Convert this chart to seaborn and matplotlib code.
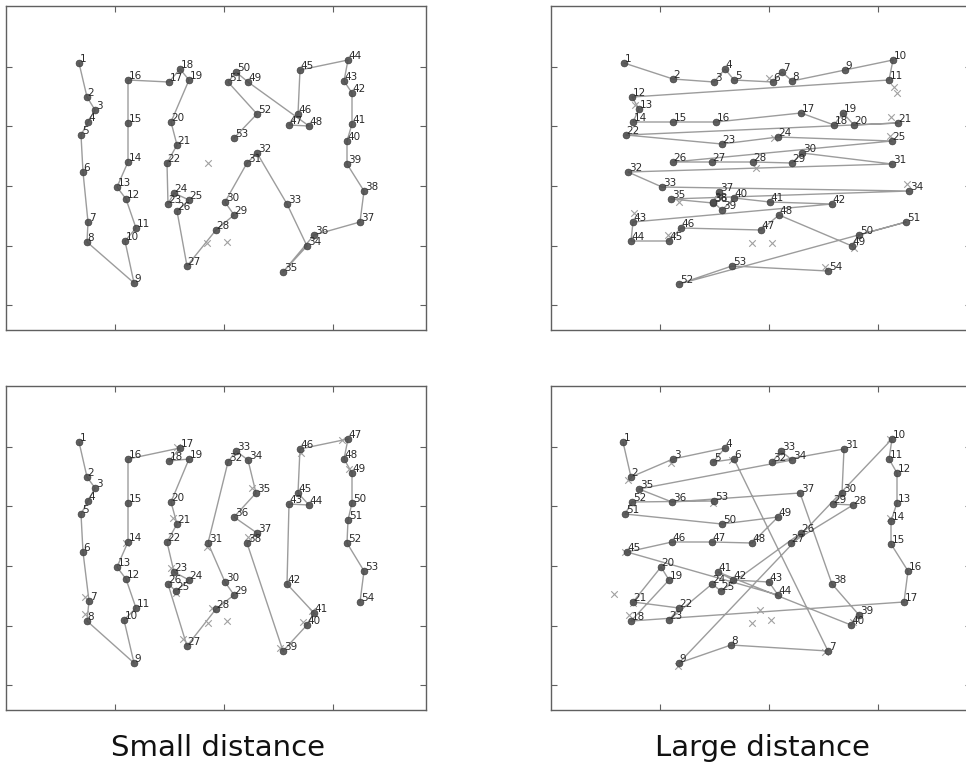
import numpy as np
import pandas as pd
import matplotlib
matplotlib.use("Agg")
import matplotlib.pyplot as plt
import seaborn as sns

sns.set_style("white")
plt.rcParams['font.family'] = ['DejaVu Sans']

# ---------------- data (screen coordinates inside each panel, y grows downward) -------------
# Top-left panel: small distance, trial A (53 points)
p1_x = [73, 81, 89, 82, 75, 77, 82, 81, 128, 119, 130, 120, 111, 122, 122, 122,
        163, 174, 183, 165, 171, 161, 162, 168, 183, 171, 181, 210, 228, 219, 241, 251,
        281, 301, 277, 308, 354, 358, 341, 341, 346, 346, 338, 342, 294, 292, 283, 303,
        242, 230, 222, 251, 228]
p1_y = [57, 91, 104, 116, 129, 166, 216, 236, 277, 235, 222, 193, 181, 156, 117, 74,
        76, 63, 74, 116, 139, 157, 198, 187, 194, 205, 260, 224, 209, 196, 157, 147,
        198, 240, 266, 229, 216, 185, 158, 135, 118, 87, 75, 54, 64, 108, 119, 120,
        76, 66, 76, 108, 132]
p1_tx = [202, 201, 221]
p1_ty = [157, 237, 236]

# Top-right panel: large distance, trial A (54 points)
p2_x = [73, 122, 163, 174, 183, 222, 231, 241, 294, 342, 338, 81, 88, 82, 122, 165,
        250, 283, 292, 303, 347, 75, 171, 227, 341, 122, 161, 202, 241, 251, 341, 77,
        111, 358, 120, 162, 168, 162, 171, 183, 219, 281, 82, 80, 118, 130, 210, 228,
        301, 308, 355, 128, 181, 277]
p2_y = [57, 73, 76, 63, 74, 76, 66, 75, 64, 54, 74, 91, 103, 116, 116, 116,
        107, 119, 107, 119, 117, 129, 138, 131, 135, 156, 156, 156, 157, 147, 158, 166,
        181, 185, 193, 197, 186, 196, 204, 192, 196, 198, 216, 235, 235, 222, 224, 209,
        240, 229, 216, 278, 260, 265]
p2_tx = [201, 221, 343, 346, 340, 84, 128, 83, 117, 218, 339, 356, 274, 303, 205, 223]
p2_ty = [237, 237, 81, 87, 111, 99, 196, 207, 229, 72, 130, 178, 261, 242, 162, 132]

# Bottom-left panel: small distance, trial B (54 points)
p3_x = [73, 81, 89, 82, 75, 77, 83, 81, 128, 118, 130, 120, 111, 122, 122, 122,
        174, 163, 183, 165, 171, 161, 168, 183, 170, 162, 181, 210, 228, 219, 202, 222,
        230, 242, 250, 228, 251, 241, 277, 301, 308, 281, 283, 303, 292, 294, 342, 338,
        346, 346, 342, 341, 358, 354]
p3_y = [56, 91, 102, 115, 128, 166, 215, 235, 277, 234, 222, 193, 181, 156, 117, 73,
        62, 75, 73, 116, 138, 156, 186, 194, 205, 198, 260, 223, 209, 196, 157, 76,
        65, 74, 107, 131, 147, 157, 265, 239, 227, 198, 118, 119, 107, 63, 53, 73,
        87, 117, 134, 157, 185, 216]
p3_tx = [202, 221, 201, 206, 177, 274, 297, 306, 171, 246, 242, 120, 79, 79, 336, 295, 343, 167, 165, 170]
p3_ty = [237, 235, 161, 222, 253, 262, 236, 225, 61, 102, 151, 157, 211, 228, 54, 67, 83, 132, 182, 207]

# Bottom-right panel: large distance, trial B (53 points)
p4_x = [72, 80, 122, 174, 162, 183, 277, 180, 128, 341, 338, 346, 346, 340, 340, 357,
        353, 80, 118, 110, 82, 128, 118, 161, 170, 250, 240, 302, 282, 291, 293, 221,
        230, 241, 88, 121, 249, 281, 308, 300, 167, 182, 218, 227, 76, 121, 161, 201,
        227, 171, 74, 81, 163]
p4_y = [56, 91, 73, 62, 76, 73, 265, 259, 277, 53, 73, 87, 117, 135, 158, 185,
        216, 235, 194, 181, 216, 222, 234, 198, 205, 147, 157, 119, 118, 107, 63, 76,
        65, 74, 103, 116, 107, 198, 229, 239, 186, 194, 196, 209, 166, 156, 156, 157,
        131, 138, 128, 116, 115]
p4_tx = [63, 201, 220, 209, 77, 120, 78, 82, 74, 162, 181, 274, 127, 339, 339, 302]
p4_ty = [208, 237, 234, 224, 94, 77, 229, 217, 166, 117, 74, 266, 280, 53, 132, 236]

column_titles = ["Small distance", "Large distance"]

x_ticks = [109, 218, 327]
y_ticks = [61, 120, 180, 240, 299]

# ---------------- figure -------------
W, H = 966, 769
fig = plt.figure(figsize=(W / 100, H / 100), dpi=100)

panel_w, panel_h = 420, 324
panels = [
    (p1_x, p1_y, p1_tx, p1_ty, 6, 6),
    (p2_x, p2_y, p2_tx, p2_ty, 551, 6),
    (p3_x, p3_y, p3_tx, p3_ty, 6, 386),
    (p4_x, p4_y, p4_tx, p4_ty, 551, 386),
]

line_col = "#9c9c9c"
dot_col = "#4d4d4d"
text_col = "#2a2a2a"
spine_col = "#606060"

for xs, ys, txs, tys, left, top in panels:
    ax = fig.add_axes([left / W, 1 - (top + panel_h) / H, panel_w / W, panel_h / H])
    df = pd.DataFrame({"x": xs, "y": ys})
    tdf = pd.DataFrame({"x": txs, "y": tys})
    sns.lineplot(data=df, x="x", y="y", sort=False, estimator=None,
                 color=line_col, linewidth=1.0, ax=ax, zorder=2)
    sns.scatterplot(data=tdf, x="x", y="y", marker="x", s=22, color="#a0a0a0",
                    linewidth=0.8, ax=ax, zorder=2)
    sns.scatterplot(data=df, x="x", y="y", s=24, color=dot_col, edgecolor="#3a3a3a",
                    linewidth=0.5, alpha=0.9, ax=ax, zorder=3)
    for i, (x, y) in enumerate(zip(xs, ys)):
        ax.annotate(str(i + 1), (x, y), xytext=(0.5, 0.6), textcoords="offset points",
                    ha="left", va="baseline", fontsize=7.5, color=text_col, zorder=4)
    ax.set_xlim(0, panel_w)
    ax.set_ylim(panel_h, 0)
    ax.set_xticks(x_ticks)
    ax.set_yticks(y_ticks)
    ax.set_xlabel("")
    ax.set_ylabel("")
    ax.tick_params(direction="in", length=4, width=0.8, color=spine_col,
                   top=True, right=True, bottom=True, left=True,
                   labelbottom=False, labelleft=False)
    for sp in ax.spines.values():
        sp.set_visible(True)
        sp.set_color(spine_col)
        sp.set_linewidth(1.0)

fig.text(218 / W, 1 - 748 / H, column_titles[0], ha="center", va="center",
         fontsize=21, color="#111111")
fig.text(762 / W, 1 - 748 / H, column_titles[1], ha="center", va="center",
         fontsize=21, color="#111111")

fig.savefig("out.png", dpi=100)
